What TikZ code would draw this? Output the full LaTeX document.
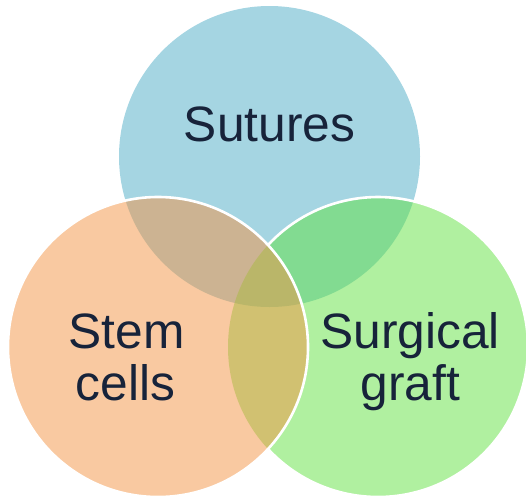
\documentclass[tikz,border=0pt]{standalone}
\usepackage{fontspec}
\setmainfont{Liberation Sans}
\definecolor{topc}{RGB}{165,213,226}
\definecolor{rightc}{RGB}{97,225,65}
\definecolor{leftc}{RGB}{243,147,67}
\definecolor{txt}{RGB}{23,35,58}
\begin{document}
\begin{tikzpicture}[x=1pt,y=-1pt,
  lbl/.style={anchor=base, inner sep=0pt, text=txt, font=\fontsize{49.7}{52}\selectfont},
  rim/.style={draw=white, line width=2.6pt}]
\useasboundingbox (0,0) rectangle (526,499);
\coordinate (ct) at (269.5,156.5);
\coordinate (cr) at (378,347);
\coordinate (cl) at (158,347);
% top circle
\fill[topc] (ct) circle (150.5pt);
% right circle
\fill[rightc, fill opacity=0.5] (cr) circle (150pt);
\draw[rim] ([shift={(-137.2:150pt)}]cr) arc (-137.2:137.2:150pt);
% left circle
\fill[leftc, fill opacity=0.5] (cl) circle (150pt);
\draw[rim] (cl) circle (150pt);
% labels
\node[lbl] (sut) at (269.5,141.7) {Sutures};
\node[lbl] (stem1) at (126.5,348.3) {Stem};
\node[lbl] (stem2) at (125.5,400.7) {cells};
\node[lbl] (surg1) at (410,348.3) {Surgical};
\node[lbl] (surg2) at (410.5,400.7) {graft};
\end{tikzpicture}
\end{document}
